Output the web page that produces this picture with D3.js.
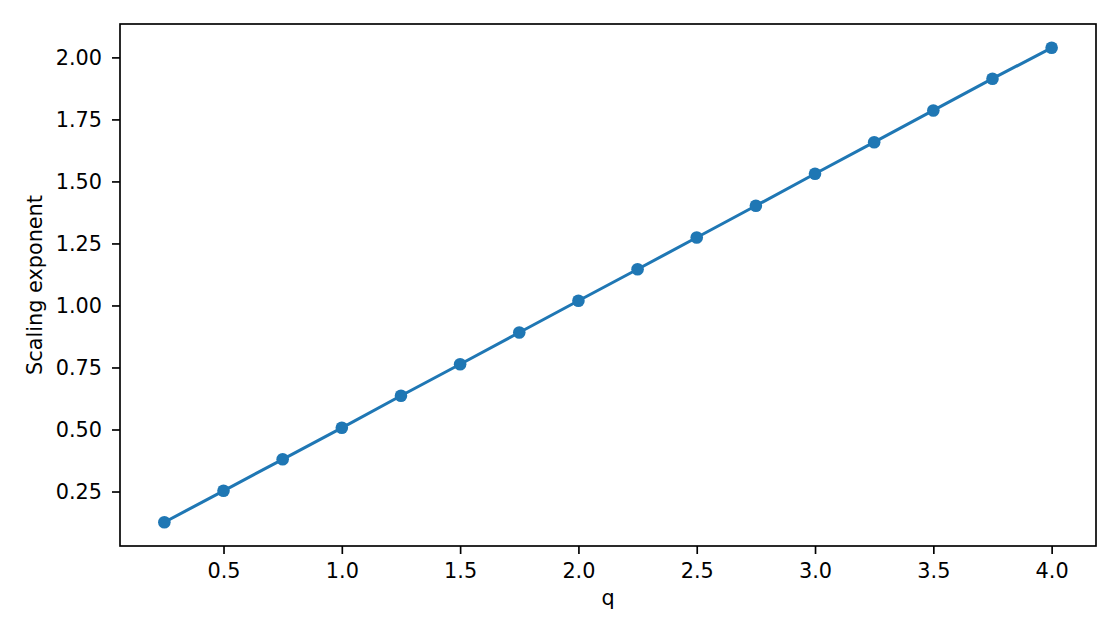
<!DOCTYPE html>
<html><head><meta charset="utf-8">
<script src="https://cdn.jsdelivr.net/npm/d3@7"></script>
<style>body{margin:0;background:#fff}svg{display:block}text{font-family:"DejaVu Sans",sans-serif}</style>
</head><body>
<svg id="chart" width="1120" height="640"></svg>
<script>
const qValues = [0.25,0.5,0.75,1.0,1.25,1.5,1.75,2.0,2.25,2.5,2.75,3.0,3.25,3.5,3.75,4.0];
const exponents = [0.126,0.253,0.380,0.507,0.636,0.763,0.891,1.019,1.146,1.274,1.402,1.531,1.658,1.786,1.914,2.039];
const xTicks = [0.5,1.0,1.5,2.0,2.5,3.0,3.5,4.0];
const yTicks = [0.25,0.5,0.75,1.0,1.25,1.5,1.75,2.0];
const xLabel = "q", yLabel = "Scaling exponent";

const svg = d3.select("#chart");
const L=120, R=1096, T=24, B=546;
const xmin=d3.min(qValues), xmax=d3.max(qValues), xm=(xmax-xmin)*0.05;
const ymin=d3.min(exponents), ymax=d3.max(exponents), ym=(ymax-ymin)*0.05;
const x=d3.scaleLinear().domain([xmin-xm,xmax+xm]).range([L,R]);
const y=d3.scaleLinear().domain([ymin-ym,ymax+ym]).range([B,T]);
const color="#1f77b4";
const fs="20.8px";

const xa=svg.append("g").attr("transform",`translate(0,${B})`)
  .call(d3.axisBottom(x).tickValues(xTicks).tickFormat(d3.format(".1f")).tickSize(8).tickPadding(9));
const ya=svg.append("g").attr("transform",`translate(${L},0)`)
  .call(d3.axisLeft(y).tickValues(yTicks).tickFormat(d3.format(".2f")).tickSize(8).tickPadding(10));
[xa,ya].forEach(a=>{a.select(".domain").remove();a.selectAll("line").attr("stroke","#000").attr("stroke-width",1.67);
  a.selectAll("text").attr("fill","#000").style("font-size",fs).style("font-family","DejaVu Sans");});

svg.append("path").datum(qValues.map((q,i)=>[q,exponents[i]]))
  .attr("d",d3.line().x(d=>x(d[0])).y(d=>y(d[1])))
  .attr("fill","none").attr("stroke",color).attr("stroke-width",3.1).attr("stroke-linecap","square");
svg.selectAll("circle.pt").data(qValues).join("circle").attr("class","pt")
  .attr("cx",d=>x(d)).attr("cy",(d,i)=>y(exponents[i])).attr("r",6.3).attr("fill",color);

svg.append("rect").attr("x",L).attr("y",T).attr("width",R-L).attr("height",B-T)
  .attr("fill","none").attr("stroke","#000").attr("stroke-width",1.67);

svg.append("text").attr("x",(L+R)/2).attr("y",605).attr("text-anchor","middle").style("font-size",fs).text(xLabel);
svg.append("text").attr("transform",`translate(42,${(T+B)/2}) rotate(-90)`).attr("text-anchor","middle").style("font-size",fs).text(yLabel);
</script>
</body></html>
